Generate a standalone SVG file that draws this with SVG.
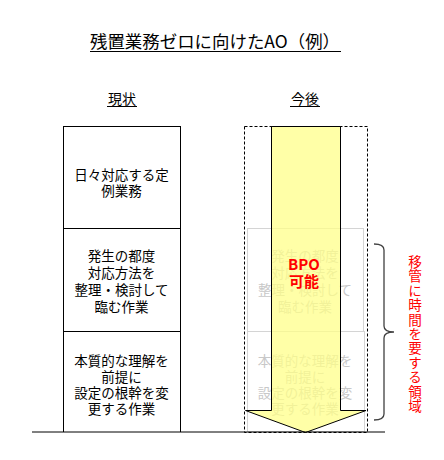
<svg xmlns="http://www.w3.org/2000/svg" width="444" height="460" viewBox="0 0 444 460">
<style>
.t{font-family:"Noto Sans CJK JP","Noto Sans",sans-serif;font-size:13.5px;text-anchor:middle;fill:#000}
.f{fill:#c8c8c8}
.box{fill:#fff;stroke:#000;stroke-width:1}
.fbox{fill:none;stroke:#d4d4d4;stroke-width:1}
</style>
<rect width="444" height="460" fill="#fff"/>
<g id="title">
<text x="215" y="48" class="t" style="font-size:17px" textLength="250" lengthAdjust="spacingAndGlyphs">残置業務ゼロに向けたAO（例）</text>
<line x1="90" y1="51.5" x2="341" y2="51.5" stroke="#000" stroke-width="1"/>
</g>
<g id="head-current">
<text x="122" y="104" class="t" style="font-size:14px">現状</text>
<line x1="107" y1="106.5" x2="137" y2="106.5" stroke="#000" stroke-width="1"/>
</g>
<g id="head-future">
<text x="305" y="104" class="t" style="font-size:14px">今後</text>
<line x1="290" y1="106.5" x2="320" y2="106.5" stroke="#000" stroke-width="1"/>
</g>
<g id="box-routine">
<rect x="63.5" y="126.5" width="117" height="102" class="box"/>
<text x="121.5" y="180" class="t">日々対応する定</text>
<text x="121.5" y="196" class="t">例業務</text>
</g>
<g id="box-adhoc">
<rect x="63.5" y="228.5" width="117" height="103" class="box"/>
<text x="121.5" y="261" class="t">発生の都度</text>
<text x="121.5" y="278" class="t">対応方法を</text>
<text x="121.5" y="295" class="t">整理・検討して</text>
<text x="121.5" y="312" class="t">臨む作業</text>
</g>
<g id="box-core">
<path d="M63.5,331.5 H180.5 M63.5,331.5 V432 M180.5,331.5 V432" class="box"/>
<text x="121.5" y="366" class="t">本質的な理解を</text>
<text x="121.5" y="382" class="t">前提に</text>
<text x="121.5" y="398" class="t">設定の根幹を変</text>
<text x="121.5" y="414" class="t">更する作業</text>
</g>
<g id="future-frame">
<rect x="244.5" y="126.5" width="123" height="306" fill="none" stroke="#000" stroke-width="1" stroke-dasharray="3,2"/>
</g>
<g id="faded-adhoc">
<rect x="247.5" y="228.5" width="116" height="103" class="fbox"/>
<text x="305" y="261" class="t f">発生の都度</text>
<text x="305" y="278" class="t f">対応方法を</text>
<text x="305" y="295" class="t f">整理・検討して</text>
<text x="305" y="312" class="t f">臨む作業</text>
</g>
<g id="faded-core">
<rect x="247.5" y="331.5" width="117" height="100" class="fbox"/>
<text x="305" y="366" class="t f">本質的な理解を</text>
<text x="305" y="382" class="t f">前提に</text>
<text x="305" y="398" class="t f">設定の根幹を変</text>
<text x="305" y="414" class="t f">更する作業</text>
</g>
<g id="arrow-bpo">
<path d="M271.5,126.5 H340.5 V410.5 H366 L305.5,432.5 L245.5,410.5 H271.5 Z" fill="#ffff88" fill-opacity="0.74" stroke="#000" stroke-width="1"/>
<text x="304" y="270" class="t" style="font-size:15px;font-weight:bold;fill:#ff0000">BPO</text>
<text x="304" y="287" class="t" style="font-size:15px;font-weight:bold;fill:#ff0000">可能</text>
</g>
<g id="connectors">
<line x1="32" y1="432" x2="385" y2="432" stroke="#000" stroke-width="1"/>
<path d="M374,244 Q384,244 384,250 V326 Q384,332 394,332 Q384,332 384,338 V414 Q384,420 374,420" fill="none" stroke="#404040" stroke-width="1.3"/>
</g>
<g id="label-transfer">
<text x="415" y="255" style="font-family:'Noto Sans CJK JP',sans-serif;font-size:13.6px;letter-spacing:0.8px;fill:#ff0000;writing-mode:vertical-rl">移管に時間を要する領域</text>
</g>
</svg>
